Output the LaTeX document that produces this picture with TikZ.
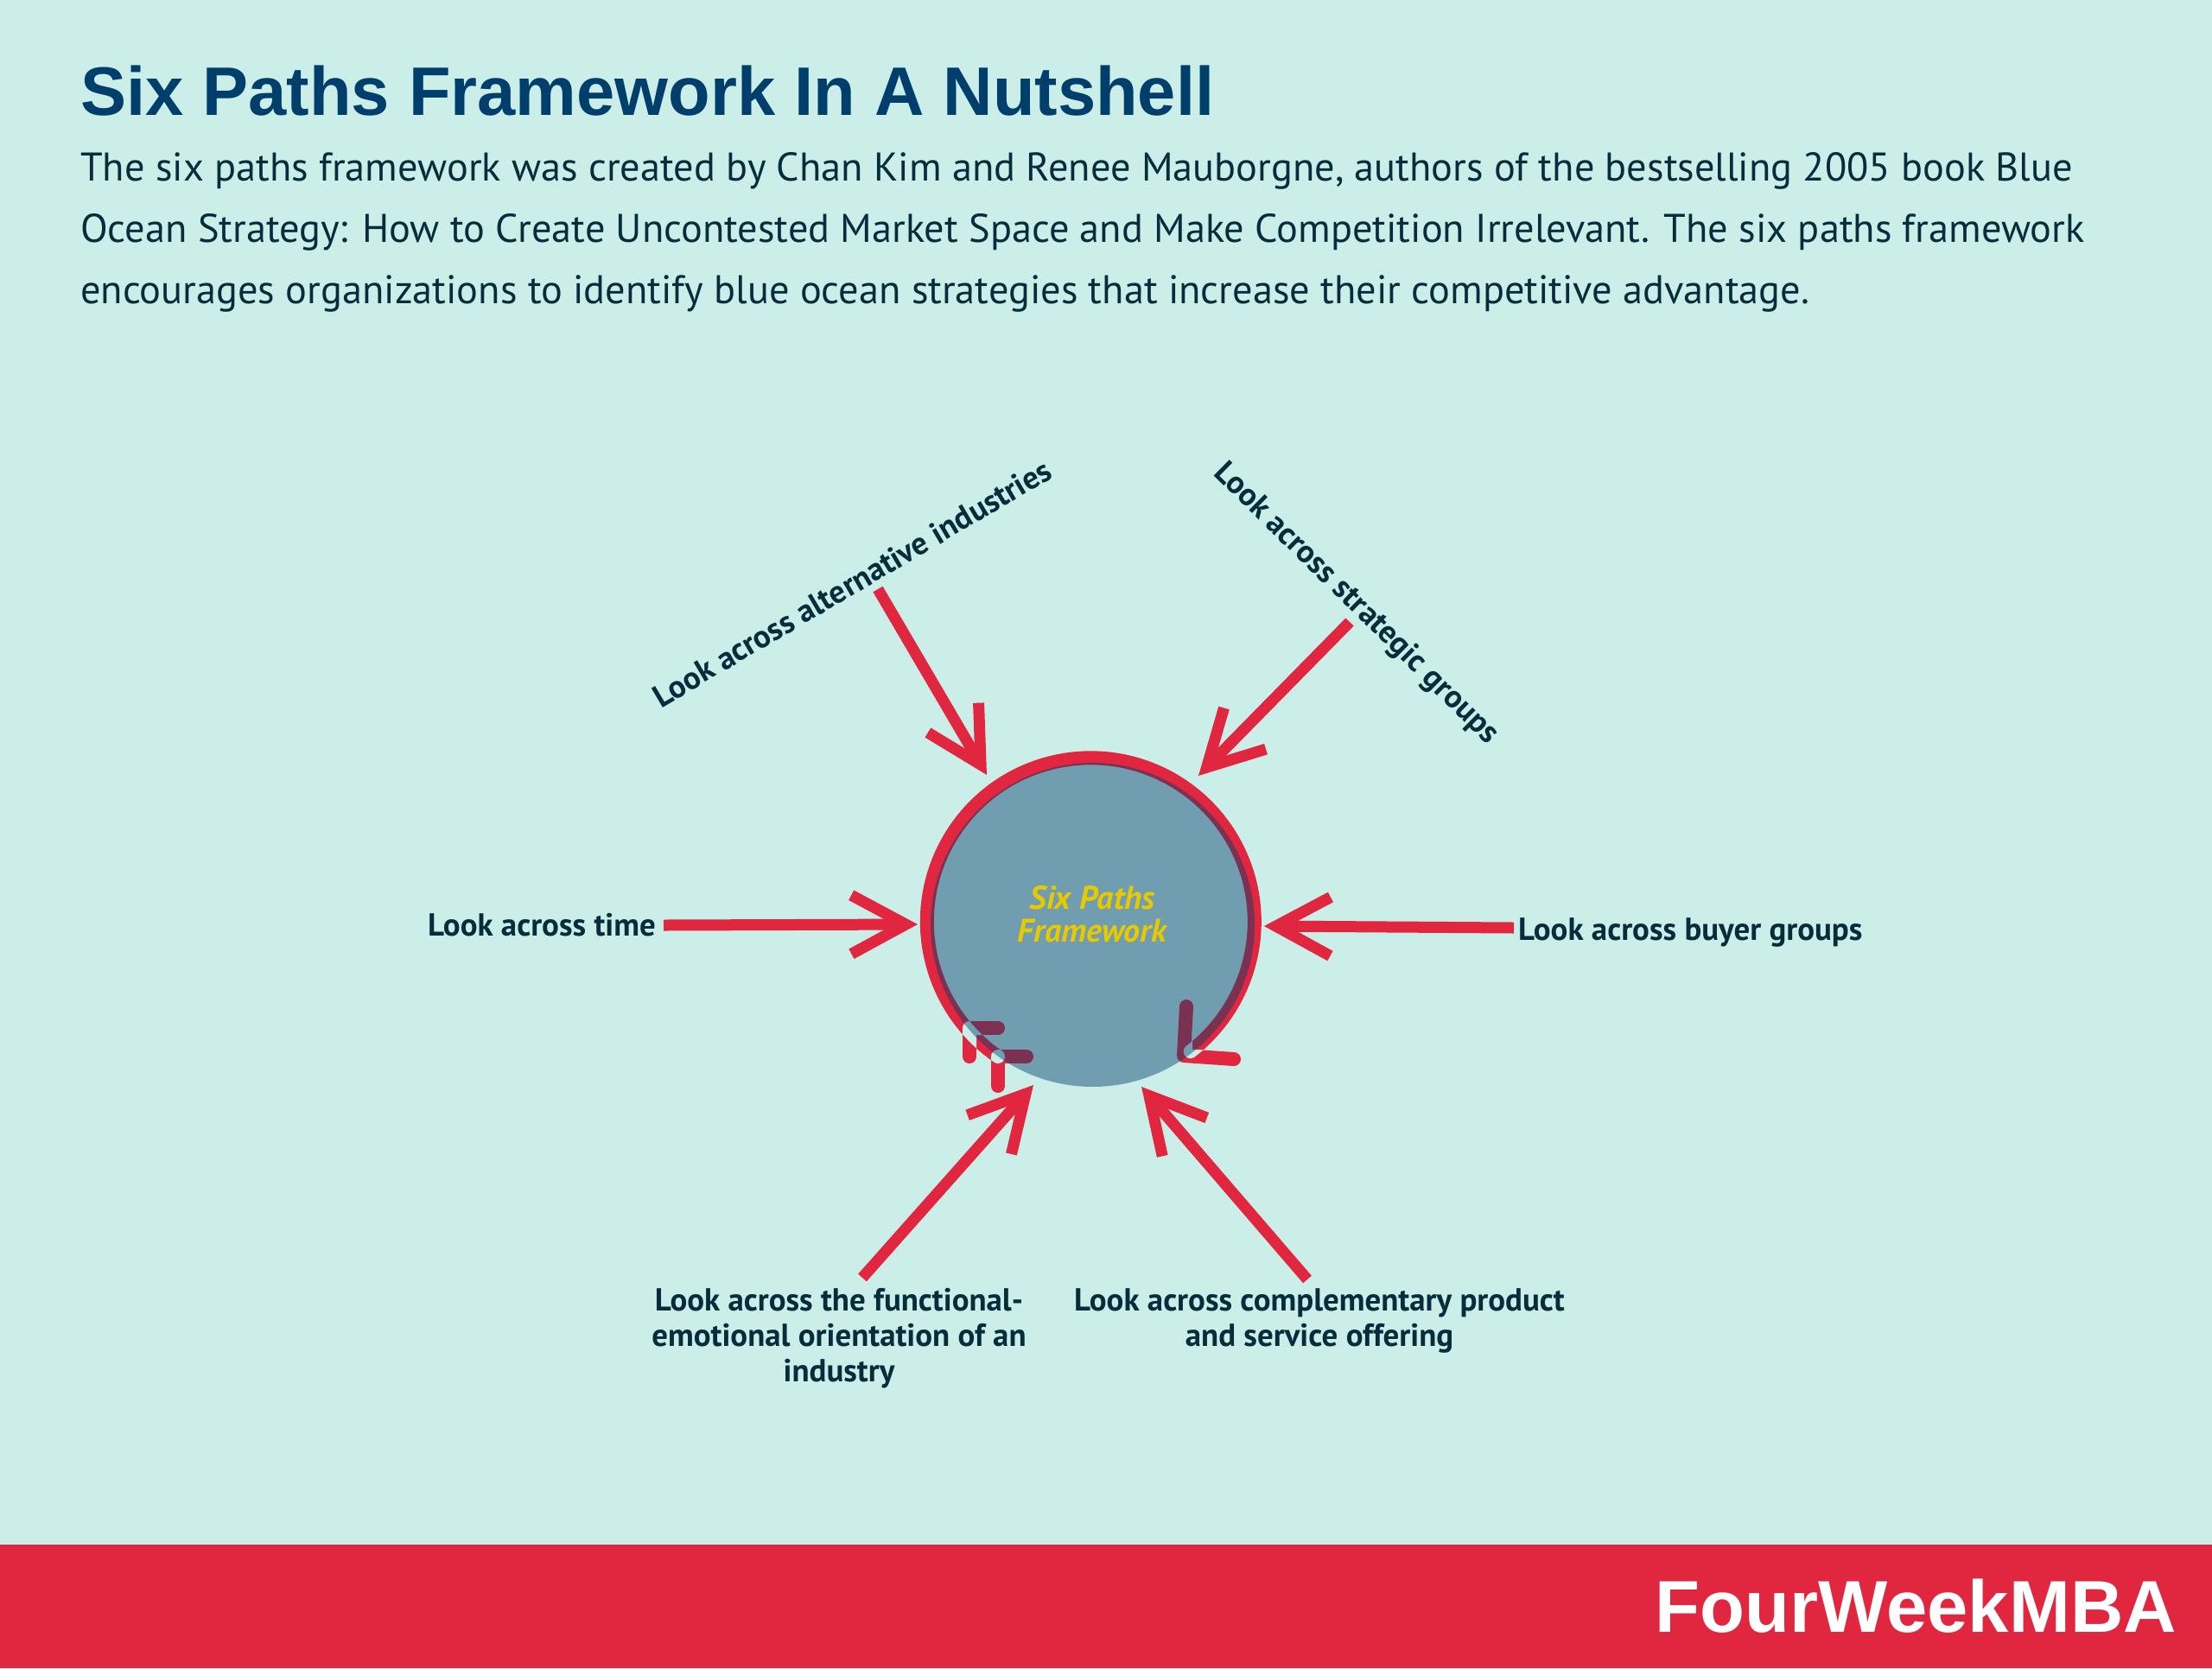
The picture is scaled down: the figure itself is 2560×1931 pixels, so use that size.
\documentclass[tikz,border=0pt]{standalone}
\usepackage{fontspec}
\setmainfont{PT Sans}
\newfontfamily\bannerfont{Liberation Sans}
\usetikzlibrary{arrows.meta}
\definecolor{seabg}{RGB}{204,238,233}
\definecolor{bannerred}{RGB}{225,39,63}
\definecolor{deepblue}{RGB}{0,62,107}
\definecolor{bodyink}{RGB}{5,45,60}
\definecolor{hubgold}{RGB}{232,200,0}
\tikzset{
  pathlabel/.style={font=\fontsize{36.9}{41}\selectfont\bfseries,text=bodyink,align=center,inner sep=0pt},
  patharrow/.style={draw=bannerred,line width=13pt,-{Straight Barb[length=63pt,width=68pt,line width=13pt]}},
  ringmark/.style={draw=bannerred,line width=16pt,line cap=round,line join=round},
}
\begin{document}
\begin{tikzpicture}[x=1pt,y=-1pt]
\useasboundingbox (0,0) rectangle (2560,1931);
\fill[seabg] (0,0) rectangle (2560,1931);
\fill[bannerred] (0,1788) rectangle (2560,1931);
\draw (93,133) node (title) [anchor=base west,inner sep=0pt,text=deepblue,font=\bannerfont\fontsize{79.5}{90}\selectfont\bfseries] {Six Paths Framework In A Nutshell};
\draw (93,176) node (intro) [anchor=north west,inner sep=0pt,text=bodyink,align=left,font=\fontsize{46.35}{71}\selectfont] {The six paths framework was created by Chan Kim and Renee Mauborgne, authors of the bestselling 2005 book Blue\\Ocean Strategy: How to Create Uncontested Market Space and Make Competition Irrelevant. The six paths framework\\encourages organizations to identify blue ocean strategies that increase their competitive advantage.};
\draw (2519,1889) node (brand) [anchor=base east,inner sep=0pt,text=white,font=\bannerfont\fontsize{85}{90}\selectfont\bfseries] {FourWeekMBA};
\coordinate (ringstart) at (1155,1223);
\coordinate (ringend) at (1370,1222);
\coordinate (markone) at (1122,1190);
\draw[ringmark] (markone) -- +(33,0);
\draw[ringmark] (markone) -- +(0,33);
\draw[ringmark] (ringstart) -- +(33,0);
\draw[ringmark] (ringstart) -- +(0,34);
\draw[ringmark] (1373,1165) -- (ringend) -- (1428,1226);
\draw[ringmark] (ringstart) arc (124.5:412.5:189.5);
\begin{scope}
\clip[rounded corners=8pt] (1114,1182) rectangle (1163,1198) (1114,1182) rectangle (1130,1231) (1147,1215) rectangle (1196,1231) (1147,1215) rectangle (1163,1265);
\draw[ringmark,draw=seabg] (ringstart) arc (124.5:412.5:189.5);
\end{scope}
\begin{scope}
\clip[rounded corners=8pt] (1362,1157) rectangle (1380,1230) (1362,1215) rectangle (1436,1234);
\draw[ringmark,draw=seabg] (ringstart) arc (124.5:412.5:189.5);
\end{scope}
\node (hub) at (1264.5,1070.5) [circle,minimum size=375pt,inner sep=0pt,fill=deepblue,fill opacity=.45] {};
\node (hubtext) at (1264,1058) [inner sep=0pt,text=hubgold,align=center,font=\fontsize{38}{38}\selectfont\bfseries\itshape] {Six Paths\hspace{12pt}\\Framework};
\draw (627,1071) node (lbltime) [pathlabel] {Look across time};
\draw (1757,1079) node (lblbuyer) [pathlabel,anchor=west] {Look across buyer groups};
\draw (986,675) node (lblalt) [pathlabel,rotate=30.5] {Look across alternative industries};
\draw (1569,699) node (lblstrategic) [pathlabel,rotate=-44.5] {Look across strategic groups};
\draw (971,1549) node (lblfunctional) [pathlabel] {Look across the functional-\\emotional orientation of an\\industry};
\draw (1527,1529) node (lblcomplement) [pathlabel] {Look across complementary product\\and service offering};
\coordinate (tailtime) at (768,1071);
\coordinate (tiptime) at (1062,1070);
\coordinate (tailbuyer) at (1752,1074);
\coordinate (tipbuyer) at (1463,1072);
\coordinate (tailalt) at (1016,682);
\coordinate (tipalt) at (1142,897);
\coordinate (tailstrategic) at (1562,720);
\coordinate (tipstrategic) at (1387,898);
\coordinate (tailfunctional) at (998,1479);
\coordinate (tipfunctional) at (1196,1256);
\coordinate (tailcomplement) at (1513,1481);
\coordinate (tipcomplement) at (1321,1258);
\draw[patharrow] (tailtime) -- (tiptime);
\draw[patharrow] (tailbuyer) -- (tipbuyer);
\draw[patharrow] (tailalt) -- (tipalt);
\draw[patharrow] (tailstrategic) -- (tipstrategic);
\draw[patharrow] (tailfunctional) -- (tipfunctional);
\draw[patharrow] (tailcomplement) -- (tipcomplement);
\end{tikzpicture}
\end{document}
